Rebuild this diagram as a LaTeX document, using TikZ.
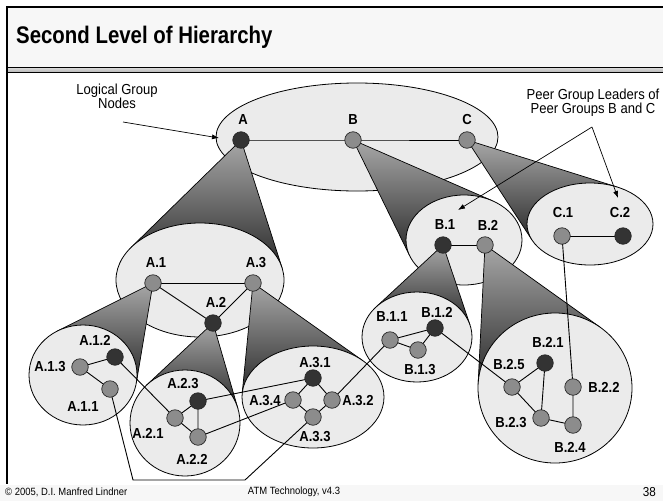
\documentclass[tikz,border=0pt]{standalone}
\usepackage{fontspec}
\setmainfont{Liberation Sans}
\newfontfamily\narrowsans[FakeStretch=0.9]{Liberation Sans}
\newfontfamily\titlesans[FakeStretch=0.85]{Liberation Sans}
\usetikzlibrary{arrows.meta}
\definecolor{ellfill}{HTML}{EBEBEB}
\definecolor{nodegray}{HTML}{8C8C8C}
\definecolor{nodedark}{HTML}{333333}
\definecolor{hdrfill}{HTML}{F7F7F7}
\definecolor{ctop}{HTML}{A8A8A8}
\definecolor{cmid}{HTML}{DADADA}
\definecolor{cbot}{HTML}{2A2A2A}
\newcommand\conefill[6]{%
  \pgfmathsetmacro\cnPx{(#1-#3)/#5}%
  \pgfmathsetmacro\cnPy{(#2-#4)/#6}%
  \pgfmathsetmacro\cnR{sqrt(\cnPx*\cnPx+\cnPy*\cnPy)}%
  \pgfmathsetmacro\cnT{atan2(\cnPy,\cnPx)}%
  \pgfmathsetmacro\cnD{acos(1/\cnR)}%
  \pgfmathsetmacro\cnXa{#3+#5*cos(\cnT+\cnD)}%
  \pgfmathsetmacro\cnYa{#4+#6*sin(\cnT+\cnD)}%
  \pgfmathsetmacro\cnXb{#3+#5*cos(\cnT-\cnD)}%
  \pgfmathsetmacro\cnYb{#4+#6*sin(\cnT-\cnD)}%
  \shade[conesh] (#1,#2) -- (\cnXa,\cnYa) -- (\cnXb,\cnYb) -- cycle;
  \draw[coneline] (\cnXa,\cnYa) -- (#1,#2) -- (\cnXb,\cnYb);
}
\begin{document}
\begin{tikzpicture}[x=1pt,y=-1pt,
  grp/.style={draw=black, line width=0.8pt, fill=ellfill},
  conesh/.style={top color=ctop, middle color=cmid, bottom color=cbot},
  coneline/.style={draw=black, line width=0.7pt},
  gnode/.style={circle, draw=black!85, line width=0.7pt, fill=nodegray, minimum size=16.5pt, inner sep=0pt},
  dnode/.style={gnode, fill=nodedark},
  lbl/.style={font=\narrowsans\fontsize{14.5}{15}\selectfont\bfseries, inner sep=0pt},
  link/.style={draw=black, line width=0.9pt},
  note/.style={font=\narrowsans\fontsize{14.5}{14}\selectfont, align=center, inner sep=0pt},
  arr/.style={draw=black, line width=0.7pt, -{Latex[length=7pt,width=5pt]}},
  foot/.style={font=\narrowsans\fontsize{10.5}{11}\selectfont, inner sep=0pt}
]
\useasboundingbox (0,0) rectangle (663,501);
\fill[white] (0,0) rectangle (663,501);
% header
\fill[hdrfill] (7,7) rectangle (663,67);
\shade[top color=gray!25, bottom color=gray!60] (7,67) rectangle (663,72.5);
\draw[black, line width=1pt] (7,67) -- (663,67);
\draw[black, line width=1pt] (7,72.5) -- (663,72.5);
\draw[black, line width=1.6pt] (6.2,7) -- (663,7);
\draw[black, line width=1.6pt] (7,6.2) -- (7,484);
\fill[hdrfill] (0,484.5) rectangle (663,501);
\node[anchor=west, inner sep=0pt, font=\titlesans\fontsize{24}{26}\selectfont\bfseries] (title) at (16,37) {Second Level of Hierarchy};
\node[foot, anchor=west] (f1) at (5,492) {\textcopyright{} 2005, D.I. Manfred Lindner};
\node[foot] (f2) at (294,492) {ATM Technology, v4.3};
\node[foot, anchor=east, font=\narrowsans\fontsize{13}{13}\selectfont] (f3) at (656,492) {38};

% level 1
\draw[grp] (357,137) ellipse [x radius=141pt, y radius=54pt];
\conefill{241}{140}{200}{280}{84}{57}
\conefill{353}{140}{464}{240}{58}{45}
\conefill{467}{140}{590}{224}{63}{41}
% level 2
\draw[grp] (200,280) ellipse [x radius=84pt, y radius=57pt];
\draw[grp] (464,240) ellipse [x radius=58pt, y radius=45pt];
\draw[grp] (590,224) ellipse [x radius=63pt, y radius=41pt];
\conefill{153}{283}{83}{375}{54}{50}
\conefill{213}{323}{185}{423}{55}{53}
\conefill{253}{283}{313}{397}{71}{51}
\conefill{443}{245}{417}{337}{55}{45}
\conefill{485}{245}{555}{388}{77}{75}
% level 3
\draw[grp] (83,375) ellipse [x radius=54pt, y radius=50pt];
\draw[grp] (185,423) ellipse [x radius=55pt, y radius=53pt];
\draw[grp] (313,397) ellipse [x radius=71pt, y radius=51pt];
\draw[grp] (417,337) ellipse [x radius=55pt, y radius=45pt];
\draw[grp] (555,388) ellipse [x radius=77pt, y radius=75pt];

% node positions
\coordinate (A) at (241,140);
\coordinate (B) at (353,140);
\coordinate (C) at (467,140);
\coordinate (A1) at (153,283);
\coordinate (A2) at (213,323);
\coordinate (A3) at (253,283);
\coordinate (B1) at (443,245);
\coordinate (B2) at (485,245);
\coordinate (C1) at (562,236);
\coordinate (C2) at (623,236);
\coordinate (A12) at (115,357);
\coordinate (A13) at (80,367);
\coordinate (A11) at (110,389);
\coordinate (A23) at (198,401);
\coordinate (A21) at (175,418);
\coordinate (A22) at (198,437);
\coordinate (A31) at (313,378);
\coordinate (A34) at (293,400);
\coordinate (A32) at (332,400);
\coordinate (A33) at (313,417);
\coordinate (B11) at (390,340);
\coordinate (B12) at (435,328);
\coordinate (B13) at (418,350);
\coordinate (B21) at (545,363);
\coordinate (B25) at (512,387);
\coordinate (B22) at (573,387);
\coordinate (B23) at (541,418);
\coordinate (B24) at (573,425);

% links
\draw[link] (A) -- (B) -- (C);
\draw[link] (A1) -- (A3); \draw[link] (A1) -- (A2) -- (A3);
\draw[link] (B1) -- (B2);
\draw[link] (C1) -- (C2);
\draw[link] (A13) -- (A12); \draw[link] (A13) -- (A11);
\draw[link] (A23) -- (A21) -- (A22) -- (A23);
\draw[link] (A31) -- (A32) -- (A33) -- (A34) -- (A31);
\draw[link] (B11) -- (B12) -- (B13) -- (B11);
\draw[link] (B25) -- (B21) -- (B23) -- (B25);
\draw[link] (B23) -- (B24) -- (B22);
\draw[link] (A12) -- (A21);
\draw[link] (A23) -- (A31);
\draw[link] (A22) -- (A34);
\draw[link] (A32) -- (B11);
\draw[link] (B12) -- (B25);
\draw[link] (C1) -- (B22);
\coordinate (pl1) at (133,480);
\coordinate (pl2) at (245,480);
\draw[link] (A11) -- (pl1) -- (pl2) -- (A33);

% nodes on top
\foreach \n/\s in {A/dnode,B/gnode,C/gnode,A1/gnode,A2/dnode,A3/gnode,B1/dnode,B2/gnode,C1/gnode,C2/dnode,A12/dnode,A13/gnode,A11/gnode,A23/dnode,A21/gnode,A22/gnode,A31/dnode,A34/gnode,A32/gnode,A33/gnode,B11/gnode,B12/dnode,B13/gnode,B21/dnode,B25/gnode,B22/gnode,B23/gnode,B24/gnode}{
  \node[\s] (n\n) at (\n) {};
}

% labels
\node[lbl] (lA) at (243,120) {A};
\node[lbl] (lB) at (353,120) {B};
\node[lbl] (lC) at (467,120) {C};
\node[lbl] (lA1) at (156,263) {A.1};
\node[lbl] (lA2) at (216,302) {A.2};
\node[lbl] (lA3) at (256,263) {A.3};
\node[lbl] (lB1) at (445,225) {B.1};
\node[lbl] (lB2) at (488,225) {B.2};
\node[lbl] (lC1) at (563,213) {C.1};
\node[lbl] (lC2) at (620,213) {C.2};
\node[lbl] (lA12) at (95,340) {A.1.2};
\node[lbl] (lA13) at (50,367) {A.1.3};
\node[lbl] (lA11) at (83,407) {A.1.1};
\node[lbl] (lA23) at (183,384) {A.2.3};
\node[lbl] (lA21) at (148,433) {A.2.1};
\node[lbl] (lA22) at (192,459) {A.2.2};
\node[lbl] (lA31) at (315,363) {A.3.1};
\node[lbl] (lA34) at (265,401) {A.3.4};
\node[lbl] (lA32) at (358,401) {A.3.2};
\node[lbl] (lA33) at (315,437) {A.3.3};
\node[lbl] (lB11) at (392,317) {B.1.1};
\node[lbl] (lB12) at (437,312) {B.1.2};
\node[lbl] (lB13) at (420,370) {B.1.3};
\node[lbl] (lB21) at (548,342) {B.2.1};
\node[lbl] (lB25) at (509,364) {B.2.5};
\node[lbl] (lB22) at (604,387) {B.2.2};
\node[lbl] (lB23) at (511,423) {B.2.3};
\node[lbl] (lB24) at (570,447) {B.2.4};

% annotations
\node[note] (lg) at (117,96) {Logical Group\\Nodes};
\coordinate (lgS) at (123,122);
\coordinate (lgE) at (219,138);
\draw[arr] (lgS) -- (lgE);
\node[note] (pg) at (593,103) {Peer Group Leaders of\\Peer Groups B and C};
\coordinate (pgS) at (592,127);
\coordinate (pgE1) at (458,210);
\coordinate (pgE2) at (618,198);
\draw[arr] (pgS) -- (pgE1);
\draw[arr] (pgS) -- (pgE2);
\end{tikzpicture}
\end{document}
